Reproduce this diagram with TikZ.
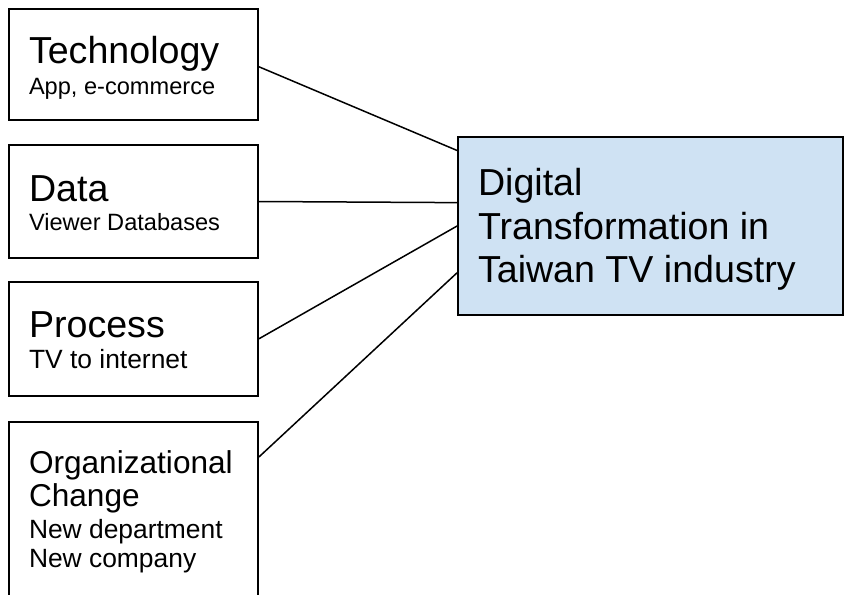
\documentclass[tikz,border=0pt]{standalone}
\usepackage{fontspec}
\setmainfont{Liberation Sans}
\usetikzlibrary{calc}
\definecolor{paleblue}{HTML}{CFE2F3}
\newcommand{\fixspacing}{\spaceskip=0pt\xspaceskip=0pt\lineskiplimit=-100pt\hyphenpenalty=10000\relax}
\newcommand{\topstrut}{\rule{0pt}{34pt}}
\newcommand{\botstrut}[1][5pt]{\rule[-#1]{0pt}{#1}\par}
\newcommand{\headsize}[1][37.6]{\fontsize{#1}{31}\selectfont\fixspacing}
\newcommand{\notesize}[1][23.6]{\fontsize{#1}{31}\selectfont\fixspacing}

\begin{document}
\begin{tikzpicture}[x=1pt,y=-1pt,
    factor/.style={draw,line width=1.8pt,minimum width=249pt,minimum height=111pt,
      text width=209pt,align=left,inner xsep=20pt,inner ysep=0pt},
    goal/.style={factor,fill=paleblue,minimum width=385pt,minimum height=178pt,text width=345pt},
    link/.style={line width=1.5pt}]
  \useasboundingbox (0,0) rectangle (845,594);
  \clip (0,0) rectangle (845,594);

  % the four factors on the left
  \node[factor] (tech) at (133.5,64.5) {\topstrut\headsize Technology\\ \notesize App, e-commerce\botstrut};
  \node[factor,minimum height=113pt] (data) at (133.5,201.5) {\topstrut\headsize Data\\[-2pt] \notesize Viewer Databases\botstrut};
  \node[factor,minimum height=114pt] (proc) at (133.5,338.8) {\topstrut\headsize Process\\ \notesize[26.4]TV to internet\botstrut};
  \node[factor,anchor=north,inner ysep=18pt] (org) at (133.5,421) {\topstrut\headsize[31.6]Organizational\\[2pt] Change\\[1pt] \notesize[26.4]New department\\[-2pt] New company\botstrut[60pt]};

  % the goal
  \node[goal] (digital) at (650.5,226) {\topstrut\fontsize{37.6}{43.7}\selectfont\fixspacing Digital\\ Transformation in\\ Taiwan TV industry\botstrut};

  \draw[link] ($(tech.north east)!0.52!(tech.south east)$) -- ($(digital.north west)!0.08!(digital.south west)$);
  \draw[link] (data.east) -- ($(digital.north west)!0.37!(digital.south west)$);
  \draw[link] (proc.east) -- (digital.west);
  \draw[link] ($(org.north east)+(0,36)$) -- ($(digital.north west)!0.76!(digital.south west)$);
\end{tikzpicture}
\end{document}
